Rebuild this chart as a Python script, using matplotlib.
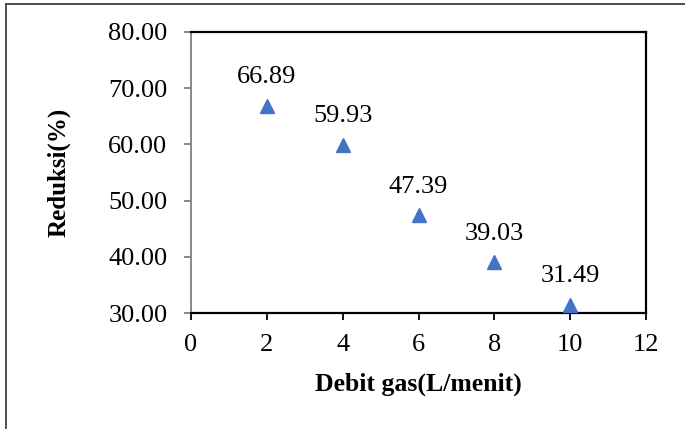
import matplotlib
matplotlib.use("Agg")
import matplotlib.pyplot as plt
from matplotlib.lines import Line2D

# Gas flow rate vs. reduction
debit_gas = [2, 4, 6, 8, 10]
reduksi = [66.89, 59.93, 47.39, 39.03, 31.49]
x_ticks = [0, 2, 4, 6, 8, 10, 12]
y_ticks = [30, 40, 50, 60, 70, 80]

plt.rcParams["font.family"] = ["Liberation Serif", "DejaVu Serif"]

fig = plt.figure(figsize=(6.85, 4.29), dpi=100)
ax = fig.add_axes([191 / 685, 1 - 313 / 429, 455 / 685, 281 / 429])

ax.plot(debit_gas, reduksi, linestyle="none", marker="^", markersize=10,
        color="#4472C4", clip_on=False, zorder=3)

for x, y in zip(debit_gas, reduksi):
    ax.annotate(f"{y:.2f}", (x, y), xytext=(0, 12.5), textcoords="offset points",
                ha="center", va="bottom", fontsize=19)

ax.set_xlim(0, 12)
ax.set_ylim(30, 80)
ax.set_xticks(x_ticks)
ax.set_yticks(y_ticks)
ax.set_xticklabels([str(v) for v in x_ticks], fontsize=19)
ax.set_yticklabels([f"{v:.2f}" for v in y_ticks], fontsize=19)
ax.tick_params(axis="both", direction="out", length=5, width=1.3)
ax.tick_params(axis="x", pad=10)
ax.tick_params(axis="y", pad=12, color="#808080")

for side in ("top", "right", "bottom"):
    ax.spines[side].set_color("black")
    ax.spines[side].set_linewidth(1.6)
ax.spines["left"].set_color("#808080")
ax.spines["left"].set_linewidth(1.3)

ax.set_xlabel("Debit gas(L/menit)", fontsize=18.5, fontweight="bold", labelpad=12)
ax.set_ylabel("Reduksi(%)", fontsize=18, fontweight="bold", labelpad=27)

# Outer frame of the chart area
fig.add_artist(Line2D([5.5 / 685, 1.0], [1 - 3.5 / 429, 1 - 3.5 / 429],
                      color="#404040", linewidth=1.3, transform=fig.transFigure))
fig.add_artist(Line2D([5.5 / 685, 5.5 / 685], [0.0, 1 - 3.5 / 429],
                      color="#404040", linewidth=1.3, transform=fig.transFigure))

fig.savefig("out.png", dpi=100)
